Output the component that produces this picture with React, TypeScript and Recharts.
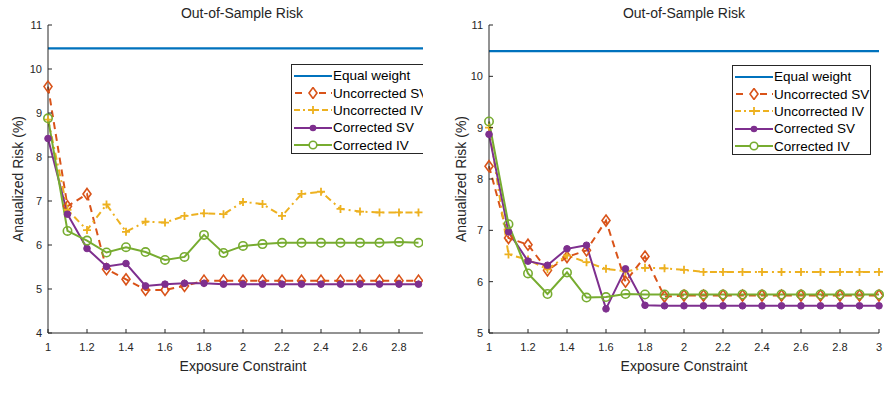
import { Line, LineChart, ReferenceLine, XAxis, YAxis } from "recharts";

// ---- data ----
const xLeft = [1, 1.1, 1.2, 1.3, 1.4, 1.5, 1.6, 1.7, 1.8, 1.9, 2, 2.1, 2.2, 2.3, 2.4, 2.5, 2.6, 2.7, 2.8, 2.9];
const leftUncSV = [9.6, 6.88, 7.16, 5.45, 5.22, 4.98, 4.98, 5.07, 5.19, 5.19, 5.19, 5.19, 5.19, 5.19, 5.19, 5.19, 5.19, 5.19, 5.19, 5.19];
const leftUncIV = [8.85, 6.8, 6.34, 6.92, 6.3, 6.53, 6.51, 6.66, 6.72, 6.7, 6.98, 6.93, 6.66, 7.16, 7.21, 6.82, 6.76, 6.74, 6.74, 6.74];
const leftCorSV = [8.42, 6.7, 5.92, 5.51, 5.58, 5.07, 5.11, 5.13, 5.13, 5.11, 5.11, 5.11, 5.11, 5.11, 5.11, 5.11, 5.11, 5.11, 5.11, 5.11];
const leftCorIV = [8.88, 6.32, 6.1, 5.83, 5.95, 5.84, 5.66, 5.73, 6.23, 5.82, 5.98, 6.02, 6.05, 6.05, 6.05, 6.05, 6.05, 6.05, 6.07, 6.05];
const leftEqual = 10.47;

const xRight = [1, 1.1, 1.2, 1.3, 1.4, 1.5, 1.6, 1.7, 1.8, 1.9, 2, 2.1, 2.2, 2.3, 2.4, 2.5, 2.6, 2.7, 2.8, 2.9, 3];
const rightUncSV = [8.25, 6.85, 6.72, 6.22, 6.48, 6.61, 7.19, 6.0, 6.49, 5.71, 5.73, 5.73, 5.73, 5.73, 5.73, 5.73, 5.73, 5.73, 5.73, 5.73, 5.73];
const rightUncIV = [9.0, 6.53, 6.43, 6.24, 6.51, 6.38, 6.25, 6.2, 6.27, 6.26, 6.23, 6.19, 6.19, 6.19, 6.19, 6.19, 6.19, 6.19, 6.19, 6.19, 6.19];
const rightCorSV = [8.87, 6.97, 6.4, 6.32, 6.64, 6.71, 5.47, 6.25, 5.54, 5.53, 5.53, 5.53, 5.53, 5.53, 5.53, 5.53, 5.53, 5.53, 5.53, 5.53, 5.53];
const rightCorIV = [9.12, 7.12, 6.16, 5.76, 6.18, 5.69, 5.7, 5.76, 5.75, 5.75, 5.75, 5.75, 5.75, 5.75, 5.75, 5.75, 5.75, 5.75, 5.75, 5.75, 5.75];
const rightEqual = 10.49;

const xTicksLeft = [1, 1.2, 1.4, 1.6, 1.8, 2, 2.2, 2.4, 2.6, 2.8];
const xTicksRight = [1, 1.2, 1.4, 1.6, 1.8, 2, 2.2, 2.4, 2.6, 2.8, 3];
const yTicksLeft = [4, 5, 6, 7, 8, 9, 10, 11];
const yTicksRight = [5, 6, 7, 8, 9, 10, 11];

const seriesNames = ["Equal weight", "Uncorrected SV", "Uncorrected IV", "Corrected SV", "Corrected IV"];

// ---- styles ----
const FONT = '"Liberation Sans", Arial, sans-serif';
const AXIS = "#262626";
const TEXT = "#262626";
const BLUE = "#0072BD";
const ORANGE = "#D95319";
const YELLOW = "#EDB120";
const PURPLE = "#7E2F8E";
const GREEN = "#77AC30";
const DASH = "7 5";
const DASHDOT = "7 4 2 4";

const build = (xs: number[], a: number[], b: number[], c: number[], d: number[]) =>
  xs.map((x, i) => ({ x, uncSV: a[i], uncIV: b[i], corSV: c[i], corIV: d[i] }));

const leftData = build(xLeft, leftUncSV, leftUncIV, leftCorSV, leftCorIV);
const rightData = build(xRight, rightUncSV, rightUncIV, rightCorSV, rightCorIV);

// ---- markers ----
const diamondDot = (p: any) => {
  const { cx, cy } = p;
  if (cx == null || cy == null) return <g key={p.index} />;
  return (
    <polygon
      key={p.index}
      points={`${cx},${cy - 5.5} ${cx + 4},${cy} ${cx},${cy + 5.5} ${cx - 4},${cy}`}
      fill="none"
      stroke={ORANGE}
      strokeWidth={1.6}
    />
  );
};
const plusDot = (p: any) => {
  const { cx, cy } = p;
  if (cx == null || cy == null) return <g key={p.index} />;
  return (
    <path key={p.index} d={`M${cx - 4},${cy}H${cx + 4}M${cx},${cy - 4}V${cy + 4}`} stroke={YELLOW} strokeWidth={1.8} />
  );
};
const filledDot = (p: any) => {
  const { cx, cy } = p;
  if (cx == null || cy == null) return <g key={p.index} />;
  return <circle key={p.index} cx={cx} cy={cy} r={3.3} fill={PURPLE} stroke={PURPLE} />;
};
const openDot = (p: any) => {
  const { cx, cy } = p;
  if (cx == null || cy == null) return <g key={p.index} />;
  return <circle key={p.index} cx={cx} cy={cy} r={4.2} fill="none" stroke={GREEN} strokeWidth={1.6} />;
};

// ---- ticks (inward, MATLAB style) ----
const BottomTick = ({ x, y, payload }: any) => (
  <g>
    <line x1={x} x2={x} y1={y} y2={y - 4} stroke={AXIS} />
    <text x={x} y={y + 18} textAnchor="middle" fill={TEXT} fontSize={11} fontFamily={FONT}>
      {String(payload.value)}
    </text>
  </g>
);
const TopTick = ({ x, y }: any) => <line x1={x} x2={x} y1={y} y2={y + 4} stroke={AXIS} />;
const LeftTick = ({ x, y, payload }: any) => (
  <g>
    <line x1={x} x2={x + 4} y1={y} y2={y} stroke={AXIS} />
    <text x={x - 6} y={y + 4} textAnchor="end" fill={TEXT} fontSize={11} fontFamily={FONT}>
      {String(payload.value)}
    </text>
  </g>
);
const RightTick = ({ x, y }: any) => <line x1={x} x2={x - 4} y1={y} y2={y} stroke={AXIS} />;

function Panel({
  data,
  equal,
  xTicks,
  yDomain,
  yTicks,
  width,
  yWidth,
  right,
}: {
  data: any[];
  equal: number;
  xTicks: number[];
  yDomain: [number, number];
  yTicks: number[];
  width: number;
  yWidth: number;
  right: number;
}) {
  return (
    <LineChart width={width} height={418} data={data} margin={{ top: 25, right, bottom: 65, left: 0 }}>
      <XAxis
        xAxisId="b"
        dataKey="x"
        type="number"
        domain={[1, 3]}
        ticks={xTicks}
        interval={0}
        height={20}
        tickSize={0}
        tickMargin={0}
        tickLine={false}
        axisLine={{ stroke: AXIS }}
        tick={<BottomTick />}
      />
      <XAxis
        xAxisId="t"
        orientation="top"
        dataKey="x"
        type="number"
        domain={[1, 3]}
        ticks={xTicks}
        interval={0}
        height={0}
        tickSize={0}
        tickMargin={0}
        tickLine={false}
        axisLine={{ stroke: AXIS }}
        tick={<TopTick />}
      />
      <YAxis
        yAxisId="l"
        domain={yDomain}
        ticks={yTicks}
        interval={0}
        width={yWidth}
        tickSize={0}
        tickMargin={0}
        tickLine={false}
        axisLine={{ stroke: AXIS }}
        tick={<LeftTick />}
      />
      <YAxis
        yAxisId="r"
        orientation="right"
        domain={yDomain}
        ticks={yTicks}
        interval={0}
        width={0}
        tickSize={0}
        tickMargin={0}
        tickLine={false}
        axisLine={{ stroke: AXIS }}
        tick={<RightTick />}
      />
      <ReferenceLine xAxisId="b" yAxisId="l" y={equal} stroke={BLUE} strokeWidth={2.2} />
      <Line xAxisId="b" yAxisId="l" dataKey="uncSV" stroke={ORANGE} strokeWidth={2} strokeDasharray={DASH} dot={diamondDot} activeDot={false} isAnimationActive={false} />
      <Line xAxisId="b" yAxisId="l" dataKey="uncIV" stroke={YELLOW} strokeWidth={2} strokeDasharray={DASHDOT} dot={plusDot} activeDot={false} isAnimationActive={false} />
      <Line xAxisId="b" yAxisId="l" dataKey="corSV" stroke={PURPLE} strokeWidth={2} dot={filledDot} activeDot={false} isAnimationActive={false} />
      <Line xAxisId="b" yAxisId="l" dataKey="corIV" stroke={GREEN} strokeWidth={2} dot={openDot} activeDot={false} isAnimationActive={false} />
    </LineChart>
  );
}

function LegendSample({ i }: { i: number }) {
  const mid = 19;
  return (
    <svg width={38} height={12} style={{ display: "block", flex: "none" }}>
      {i === 0 && <line x1={0} x2={38} y1={6} y2={6} stroke={BLUE} strokeWidth={2} />}
      {i === 1 && (
        <g>
          <line x1={0} x2={38} y1={6} y2={6} stroke={ORANGE} strokeWidth={2} strokeDasharray="7 5" strokeDashoffset={-1} />
          <rect x={mid - 6} y={0} width={12} height={12} fill="white" />
          <polygon points={`${mid},0.5 ${mid + 4},6 ${mid},11.5 ${mid - 4},6`} fill="none" stroke={ORANGE} strokeWidth={1.6} />
        </g>
      )}
      {i === 2 && (
        <g>
          <line x1={0} x2={38} y1={6} y2={6} stroke={YELLOW} strokeWidth={2} strokeDasharray="6 3 2 3" />
          <path d={`M${mid - 4},6H${mid + 4}M${mid},2V10`} stroke={YELLOW} strokeWidth={1.8} />
        </g>
      )}
      {i === 3 && (
        <g>
          <line x1={0} x2={38} y1={6} y2={6} stroke={PURPLE} strokeWidth={2} />
          <circle cx={mid} cy={6} r={3.3} fill={PURPLE} />
        </g>
      )}
      {i === 4 && (
        <g>
          <line x1={0} x2={38} y1={6} y2={6} stroke={GREEN} strokeWidth={2} />
          <circle cx={mid} cy={6} r={3.8} fill="white" stroke={GREEN} strokeWidth={1.6} />
        </g>
      )}
    </svg>
  );
}

function LegendBox({ left, top }: { left: number; top: number }) {
  return (
    <div
      style={{
        position: "absolute",
        left,
        top,
        width: 139,
        height: 90,
        border: `1px solid ${AXIS}`,
        background: "white",
        boxSizing: "border-box",
        padding: "2px 0 0 2px",
        overflow: "hidden",
      }}
    >
      {seriesNames.map((name, i) => (
        <div key={name} style={{ display: "flex", alignItems: "center", height: 17.4 }}>
          <LegendSample i={i} />
          <span style={{ marginLeft: 1, fontSize: 13.5, color: "#000", fontFamily: FONT, whiteSpace: "nowrap" }}>{name}</span>
        </div>
      ))}
    </div>
  );
}

const labelStyle: any = {
  position: "absolute",
  fontFamily: FONT,
  fontSize: 14,
  color: TEXT,
  whiteSpace: "nowrap",
  transform: "translate(-50%, -50%)",
};

export default function App() {
  return (
    <div style={{ position: "absolute", left: 0, top: 0, width: 891, height: 418, background: "white", fontFamily: FONT }}>
      {/* left panel, cropped at its right side like the source figure */}
      <div style={{ position: "absolute", left: 0, top: 0, width: 423, height: 418, overflow: "hidden" }}>
        <Panel data={leftData} equal={leftEqual} xTicks={xTicksLeft} yDomain={[4, 11]} yTicks={yTicksLeft} width={460} yWidth={48} right={22} />
        <LegendBox left={291} top={64} />
      </div>
      <div style={{ position: "absolute", left: 445, top: 0, width: 446, height: 418 }}>
        <Panel data={rightData} equal={rightEqual} xTicks={xTicksRight} yDomain={[5, 11]} yTicks={yTicksRight} width={446} yWidth={44} right={12} />
      </div>
      <LegendBox left={732} top={65} />

      <div style={{ ...labelStyle, left: 242, top: 13 }}>Out-of-Sample Risk</div>
      <div style={{ ...labelStyle, left: 684, top: 13 }}>Out-of-Sample Risk</div>
      <div style={{ ...labelStyle, left: 243, top: 366 }}>Exposure Constraint</div>
      <div style={{ ...labelStyle, left: 684, top: 366 }}>Exposure Constraint</div>
      <div style={{ ...labelStyle, left: 18, top: 179, transform: "translate(-50%, -50%) rotate(-90deg)" }}>Anaualized Risk (%)</div>
      <div style={{ ...labelStyle, left: 461, top: 179, transform: "translate(-50%, -50%) rotate(-90deg)" }}>Anaualized Risk (%)</div>
    </div>
  );
}
